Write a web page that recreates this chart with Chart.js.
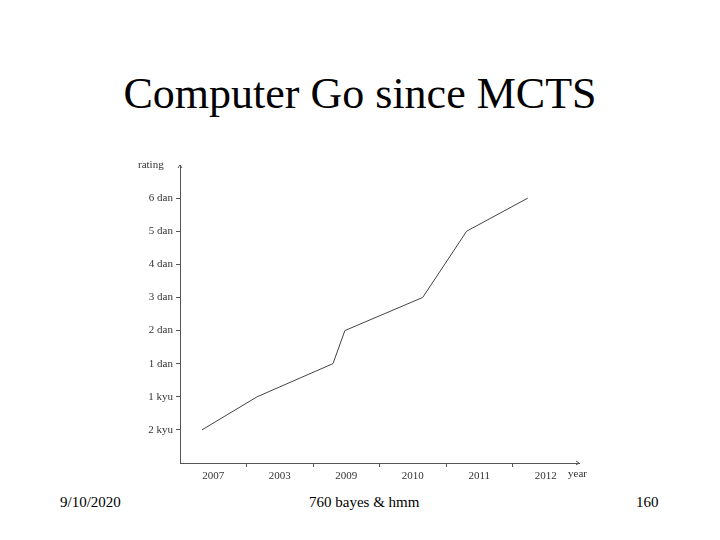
<!DOCTYPE html>
<html><head><meta charset="utf-8">
<script src="https://cdn.jsdelivr.net/npm/chart.js@4"></script>
<style>
body{margin:0;width:720px;height:540px;background:#fff;position:relative;font-family:"Liberation Serif",serif;overflow:hidden}
#t{position:absolute;top:68px;width:720px;text-align:center;font-size:44px;color:#000}
.f{position:absolute;top:494px;font-size:15px;color:#000}
canvas{position:absolute;left:0;top:0}
</style></head><body>
<div id="t">Computer Go since MCTS</div>
<div class="f" style="left:60px">9/10/2020</div>
<div class="f" style="left:309px">760 bayes &amp; hmm</div>
<div class="f" style="left:636px">160</div>
<canvas id="c" width="720" height="540"></canvas>
<script>
const yearLabels=["2007","2003","2009","2010","2011","2012"];
const rankLabels=["2 kyu","1 kyu","1 dan","2 dan","3 dan","4 dan","5 dan","6 dan"];
const xPos=[0.33,1.16,2.30,2.48,3.65,4.31,5.23];
const rating=[0,1,2,3,4,6,7];
const data=xPos.map((x,i)=>({x:x,y:rating[i]}));
const extra={id:'extra',afterDraw(c){const g=c.ctx,a=c.chartArea;g.save();g.fillStyle='#333';g.strokeStyle='#555';
g.font='11px "Liberation Serif"';g.textAlign='left';g.textBaseline='middle';
g.fillText('rating',138,165);g.fillText('year',568,474);
g.beginPath();g.moveTo(a.left-2,a.top+3);g.lineTo(a.left,a.top);g.lineTo(a.left+2,a.top+3);
g.moveTo(a.right-3,a.bottom-2);g.lineTo(a.right,a.bottom);g.lineTo(a.right-3,a.bottom+2);g.stroke();g.restore();}};
new Chart(document.getElementById('c'),{type:'line',
data:{datasets:[{data:data,borderColor:'#444',borderWidth:1,pointRadius:0,tension:0,fill:false}]},
options:{responsive:false,animation:false,events:[],
layout:{padding:{left:130,right:141,top:165,bottom:47}},
plugins:{legend:{display:false},tooltip:{enabled:false}},
scales:{
x:{type:'linear',min:0,max:6,afterFit(s){s.height=30},
 border:{color:'#555',width:1},
 grid:{drawOnChartArea:false,tickLength:4,color:ctx=>(ctx.tick&&Number.isInteger(ctx.tick.value)&&ctx.tick.value>0&&ctx.tick.value<6)?'#555':'rgba(0,0,0,0)'},
 ticks:{stepSize:0.5,autoSkip:false,maxRotation:0,color:'#333',font:{family:'"Liberation Serif"',size:11},
  callback:v=>{const k=v-0.5;return Number.isInteger(k)?yearLabels[k]:''}}},
y:{type:'linear',min:-1,max:8,afterFit(s){s.width=50},
 border:{color:'#555',width:1},
 grid:{drawOnChartArea:false,tickLength:4,color:ctx=>(ctx.tick&&ctx.tick.value>=0&&ctx.tick.value<=7)?'#555':'rgba(0,0,0,0)'},
 ticks:{stepSize:1,autoSkip:false,color:'#333',font:{family:'"Liberation Serif"',size:11},
  callback:v=>(v>=0&&v<=7)?rankLabels[v]:''}}}},
plugins:[extra]});
</script></body></html>
